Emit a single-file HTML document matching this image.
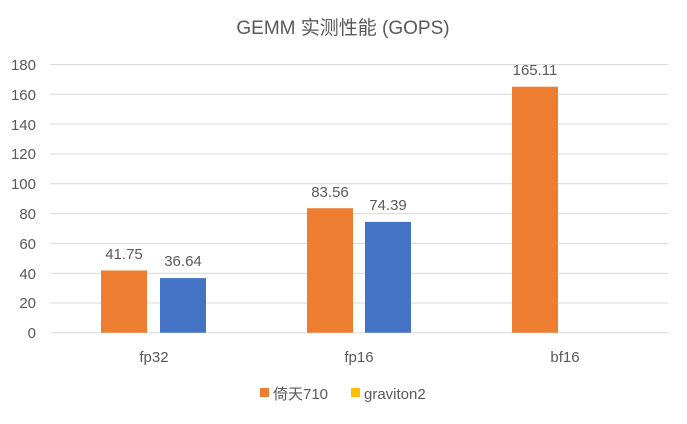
<!DOCTYPE html>
<html><head><meta charset="utf-8"><style>
body{margin:0;background:#fff;}
text{font-family:"Liberation Sans","Noto Sans CJK SC",sans-serif;fill:#595959;}
</style></head><body>
<svg width="687" height="419" viewBox="0 0 687 419" xmlns="http://www.w3.org/2000/svg">
<rect width="687" height="419" fill="#fff"/>
<text x="343" y="34" font-size="19" text-anchor="middle">GEMM 实测性能 (GOPS)</text>
<g stroke="#d9d9d9" stroke-width="1">
<line x1="50" x2="668" y1="64.5" y2="64.5"/>
<line x1="50" x2="668" y1="94.3" y2="94.3"/>
<line x1="50" x2="668" y1="124.1" y2="124.1"/>
<line x1="50" x2="668" y1="154" y2="154"/>
<line x1="50" x2="668" y1="183.8" y2="183.8"/>
<line x1="50" x2="668" y1="213.6" y2="213.6"/>
<line x1="50" x2="668" y1="243.4" y2="243.4"/>
<line x1="50" x2="668" y1="273.2" y2="273.2"/>
<line x1="50" x2="668" y1="303" y2="303"/>
<line x1="50" x2="668" y1="332.7" y2="332.7"/>
</g>
<g font-size="15" text-anchor="end">
<text x="36" y="70">180</text><text x="36" y="100">160</text><text x="36" y="130">140</text>
<text x="36" y="159">120</text><text x="36" y="189">100</text><text x="36" y="219">80</text>
<text x="36" y="249">60</text><text x="36" y="279">40</text><text x="36" y="308">20</text>
<text x="36" y="338">0</text>
</g>
<rect x="101" y="270.5" width="46" height="62.2" fill="#ed7d31"/>
<rect x="160" y="278.1" width="46" height="54.6" fill="#4472c4"/>
<rect x="307" y="208.2" width="46" height="124.5" fill="#ed7d31"/>
<rect x="365" y="221.9" width="46" height="110.8" fill="#4472c4"/>
<rect x="512" y="86.7" width="46" height="246" fill="#ed7d31"/>
<g font-size="15" text-anchor="middle">
<text x="124" y="259">41.75</text><text x="183" y="266">36.64</text>
<text x="330" y="197">83.56</text><text x="388" y="210">74.39</text>
<text x="535" y="75">165.11</text>
<text x="154" y="362">fp32</text><text x="359" y="362">fp16</text><text x="565" y="362">bf16</text>
</g>
<rect x="260" y="388" width="9" height="9" fill="#ed7d31"/>
<text x="273" y="399" font-size="15">倚天710</text>
<rect x="351" y="388" width="9" height="9" fill="#ffc000"/>
<text x="364" y="399" font-size="15">graviton2</text>
</svg>
</body></html>
